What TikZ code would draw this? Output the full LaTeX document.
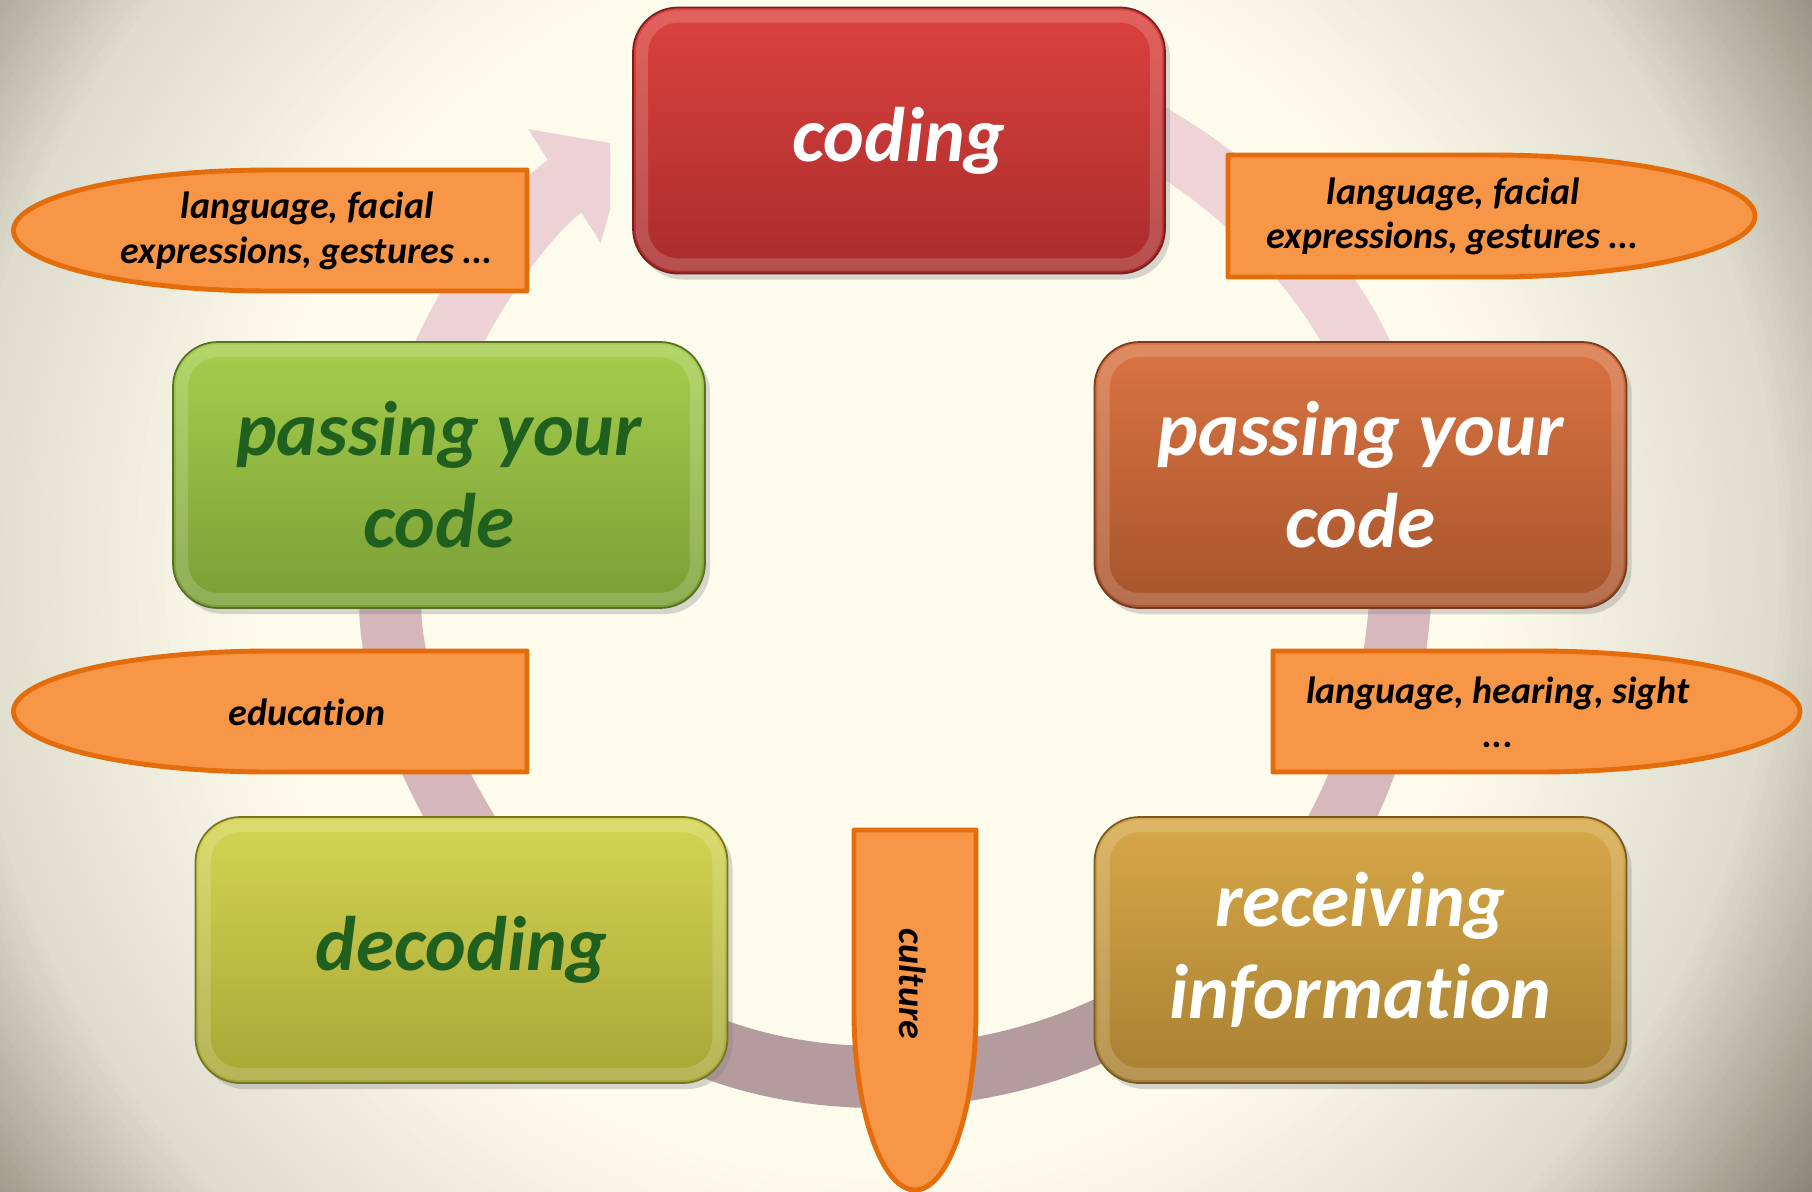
\documentclass[tikz,border=0pt]{standalone}
\usepackage{fontspec}
\setmainfont{Carlito}[Ligatures=NoCommon]
\usetikzlibrary{arrows.meta,shadows}

\definecolor{bgin}{RGB}{253,251,236}
\definecolor{bgmid}{RGB}{222,220,204}
\definecolor{bgout}{RGB}{128,126,110}
\definecolor{calfill}{RGB}{247,150,70}
\definecolor{caledge}{RGB}{228,108,10}
\definecolor{leafink}{RGB}{32,96,30}
\definecolor{codeHi}{RGB}{220,66,62}
\definecolor{codeLo}{RGB}{168,44,44}
\definecolor{leafHi}{RGB}{166,206,76}
\definecolor{leafLo}{RGB}{122,158,54}
\definecolor{rustHi}{RGB}{218,116,66}
\definecolor{rustLo}{RGB}{166,84,44}
\definecolor{limeHi}{RGB}{212,212,82}
\definecolor{limeLo}{RGB}{168,166,54}
\definecolor{goldHi}{RGB}{216,168,72}
\definecolor{goldLo}{RGB}{168,128,50}
\definecolor{arcA}{RGB}{238,212,214}
\definecolor{arcB}{RGB}{214,184,189}
\definecolor{arcC}{RGB}{180,155,158}
\definecolor{arcD}{RGB}{212,182,187}
\definecolor{arcE}{RGB}{236,210,212}

\begin{document}
\begin{tikzpicture}[
    stage/.style={rounded corners=0.45cm, minimum width=5.32cm, minimum height=2.66cm, align=center, line width=0.5pt,
        font=\fontsize{22}{26.2}\selectfont\bfseries\itshape,
        drop shadow={opacity=0.3, shadow xshift=0.05cm, shadow yshift=-0.06cm},
        path picture={\draw[white, opacity=0.17, line width=3.5pt, rounded corners=0.36cm]
            ([shift={(0.09,-0.09)}]path picture bounding box.north west) rectangle ([shift={(-0.09,0.09)}]path picture bounding box.south east);}},
    ring/.style={line width=0.62cm},
    ringtip/.style={-{Triangle[width=1.3cm, length=0.75cm]}},
    callout/.style={fill=calfill, draw=caledge, line width=1.4pt, line join=round},
    caltext/.style={align=center, font=\fontsize{10.8}{12.6}\selectfont\bfseries\itshape}
]
    \useasboundingbox (0,0) rectangle (18.12,-11.91);
    \coordinate (glow) at (8.7,-5.6);
    \begin{scope}
        \clip (0,0) rectangle (18.12,-11.91);
        \foreach \k in {0,...,40} {
            \pgfmathsetmacro{\rad}{11.6-0.0625*\k}
            \pgfmathtruncatemacro{\pct}{2.5*\k}
            \fill[bgmid!\pct!bgout] (glow) circle[radius=\rad];
        }
        \foreach \k in {0,...,30} {
            \pgfmathsetmacro{\rad}{9.05-0.095*\k}
            \pgfmathtruncatemacro{\pct}{3.34*\k}
            \fill[bgin!\pct!bgmid] (glow) circle[radius=\rad];
        }
    \end{scope}

    \coordinate (ring) at (8.98,-5.70);
    \draw[ring, draw=arcA, ringtip] ([shift={(70:5.03)}]ring) arc[start angle=70, end angle=10, radius=5.03];
    \draw[ring, draw=arcB, ringtip] ([shift={(0:5.03)}]ring) arc[start angle=0, end angle=-50, radius=5.03];
    \draw[ring, draw=arcC, ringtip] ([shift={(-60:5.03)}]ring) arc[start angle=-60, end angle=-130, radius=5.03];
    \draw[ring, draw=arcD, ringtip] ([shift={(-140:5.03)}]ring) arc[start angle=-140, end angle=-185, radius=5.03];
    \begin{scope}
        \clip (0,0) rectangle (6.10,-11.91);
        \draw[ring, draw=arcE, ringtip] ([shift={(160:5.03)}]ring) arc[start angle=160, end angle=122.5, radius=5.03];
    \end{scope}

    \node[stage, top color=codeHi, bottom color=codeLo, draw=codeLo!70!black] (coding) at (8.99,-1.405) {\color{white} coding};
    \node[stage, top color=rustHi, bottom color=rustLo, draw=rustLo!70!black] (passR) at (13.605,-4.75) {\color{white} passing your\\\color{white} code};
    \node[stage, top color=goldHi, bottom color=goldLo, draw=goldLo!70!black] (receiving) at (13.605,-9.50) {\color{white} receiving\\\color{white} information};
    \node[stage, top color=limeHi, bottom color=limeLo, draw=limeLo!70!black] (decoding) at (4.615,-9.50) {\color{leafink} decoding};
    \node[stage, top color=leafHi, bottom color=leafLo, draw=leafLo!70!black] (passL) at (4.39,-4.75) {\color{leafink} passing your\\\color{leafink} code};

    \draw[callout] (5.27,-1.70) -- (2.70,-1.70) arc[start angle=90, end angle=270, x radius=2.565, y radius=0.605] -- (5.27,-2.91) -- cycle;
    \draw[callout] (12.28,-1.55) -- (14.915,-1.55) arc[start angle=90, end angle=-90, x radius=2.635, y radius=0.61] -- (12.28,-2.77) -- cycle;
    \draw[callout] (12.73,-6.51) -- (15.365,-6.51) arc[start angle=90, end angle=-90, x radius=2.635, y radius=0.605] -- (12.73,-7.72) -- cycle;
    \draw[callout] (5.27,-6.51) -- (2.70,-6.51) arc[start angle=90, end angle=270, x radius=2.565, y radius=0.605] -- (5.27,-7.72) -- cycle;
    \draw[callout] (8.54,-10.10) -- (8.54,-8.30) -- (9.76,-8.30) -- (9.76,-10.10) arc[start angle=0, end angle=-180, x radius=0.61, y radius=1.80] -- cycle;

    \node[caltext] (signsL) at (3.07,-2.31) {language, facial\\expressions, gestures ...};
    \node[caltext] (signsR) at (14.53,-2.165) {language, facial\\expressions, gestures ...};
    \node[caltext] (senses) at (14.98,-7.12) {language, hearing, sight\\...};
    \node[caltext] (education) at (3.07,-7.12) {education};
    \node[caltext, rotate=-90] (culture) at (9.13,-9.84) {culture};
\end{tikzpicture}
\end{document}
